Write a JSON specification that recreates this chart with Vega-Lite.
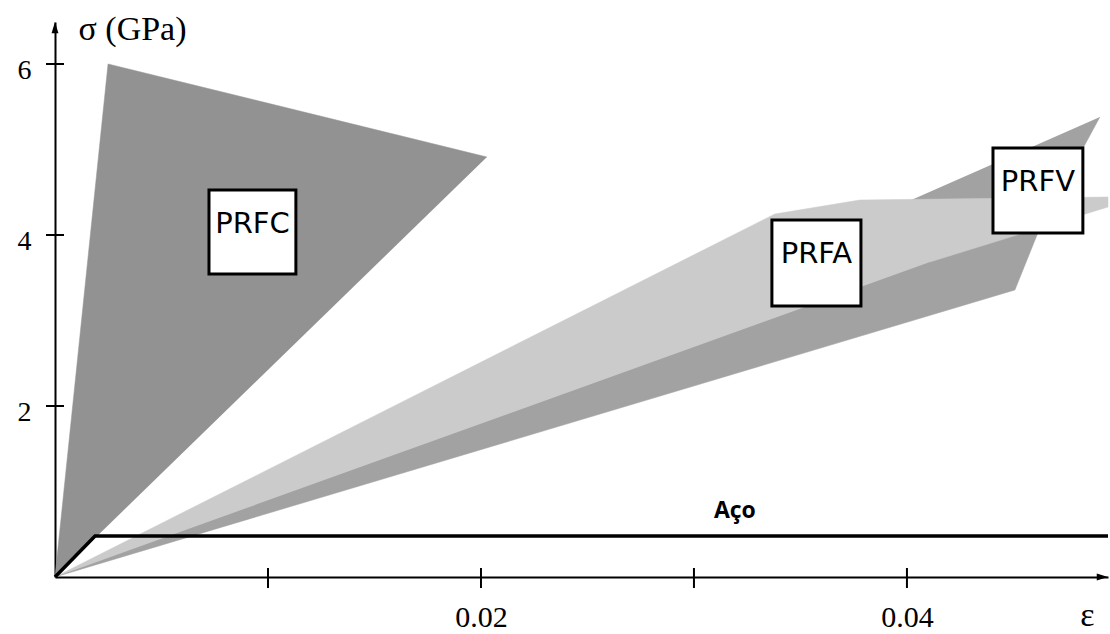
{
  "$schema": "https://vega.github.io/schema/vega-lite/v6.json",
  "width": 1053,
  "height": 555,
  "autosize": {"type": "none"},
  "padding": {"left": 55, "top": 22, "right": 2, "bottom": 57},
  "background": "#ffffff",
  "config": {
    "view": {"stroke": null},
    "axis": {"grid": false, "domain": true, "domainColor": "#000000", "domainWidth": 2, "ticks": false, "zindex": 1}
  },
  "datasets": {
    "regions": [
      {"s": "PRFC", "i": 0, "x": 0, "y": 0},
      {"s": "PRFC", "i": 1, "x": 0.00249, "y": 6.0},
      {"s": "PRFC", "i": 2, "x": 0.02028, "y": 4.912},
      {"s": "PRFV", "i": 0, "x": 0, "y": 0},
      {"s": "PRFV", "i": 1, "x": 0.04507, "y": 3.357},
      {"s": "PRFV", "i": 2, "x": 0.04624, "y": 4.082},
      {"s": "PRFV", "i": 3, "x": 0.04906, "y": 5.38},
      {"s": "PRFA", "i": 0, "x": 0, "y": 0},
      {"s": "PRFA", "i": 1, "x": 0.0338, "y": 4.246},
      {"s": "PRFA", "i": 2, "x": 0.03779, "y": 4.409},
      {"s": "PRFA", "i": 3, "x": 0.04944, "y": 4.444},
      {"s": "PRFA", "i": 4, "x": 0.04944, "y": 4.327},
      {"s": "PRFA", "i": 5, "x": 0.04624, "y": 4.082},
      {"s": "PRFA", "i": 6, "x": 0.04108, "y": 3.684}
    ],
    "steel": [
      {"i": 0, "x": 0, "y": 0},
      {"i": 1, "x": 0.00188, "y": 0.48},
      {"i": 2, "x": 0.04944, "y": 0.48}
    ],
    "boxes": [
      {"name": "PRFC", "x": 0.00723, "x2": 0.01131, "y": 4.526, "y2": 3.544},
      {"name": "PRFA", "x": 0.03366, "x2": 0.03784, "y": 4.175, "y2": 3.17},
      {"name": "PRFV", "x": 0.04404, "x2": 0.04826, "y": 5.018, "y2": 4.023}
    ],
    "boxLabels": [
      {"name": "PRFC", "x": 0.00927, "y": 4.023},
      {"name": "PRFA", "x": 0.03575, "y": 3.673},
      {"name": "PRFV", "x": 0.04615, "y": 4.515}
    ],
    "note": [{"label": "Aço", "x": 0.03192, "y": 0.69}],
    "xticks": [{"x": 0.01, "y": 0}, {"x": 0.02, "y": 0}, {"x": 0.03, "y": 0}, {"x": 0.04, "y": 0}],
    "yticks": [{"x": 0, "y": 2}, {"x": 0, "y": 4}, {"x": 0, "y": 6}],
    "arrows": [{"dir": "up", "x": 0, "y": 6.491}, {"dir": "right", "x": 0.04944, "y": 0}]
  },
  "encoding": {
    "x": {
      "field": "x",
      "type": "quantitative",
      "scale": {"domain": [0, 0.04944], "nice": false, "zero": false},
      "axis": {
        "values": [0.02, 0.04],
        "format": ".2f",
        "labelFont": "Liberation Serif",
        "labelFontSize": 30,
        "labelColor": "#000000",
        "labelBaseline": "alphabetic",
        "labelPadding": 49,
        "labelFlush": false,
        "labelOverlap": false,
        "title": "ε",
        "titleFont": "Liberation Serif",
        "titleFontSize": 34,
        "titleFontWeight": "normal",
        "titleColor": "#000000",
        "titleX": 1032,
        "titleY": 48,
        "titleAlign": "center",
        "titleBaseline": "alphabetic"
      }
    },
    "y": {
      "field": "y",
      "type": "quantitative",
      "scale": {"domain": [0, 6.491], "nice": false, "zero": false},
      "axis": {
        "values": [2, 4, 6],
        "labelFont": "Liberation Serif",
        "labelFontSize": 28,
        "labelColor": "#000000",
        "labelPadding": 24,
        "labelOffset": 7,
        "title": "σ (GPa)",
        "titleAngle": 0,
        "titleAlign": "left",
        "titleBaseline": "alphabetic",
        "titleX": 23,
        "titleY": 17,
        "titleFont": "Liberation Serif",
        "titleFontSize": 34,
        "titleFontWeight": "normal",
        "titleColor": "#000000"
      }
    }
  },
  "layer": [
    {
      "data": {"name": "regions"},
      "transform": [{"filter": "datum.s === 'PRFC'"}],
      "mark": {"type": "line", "fill": "#929292", "fillOpacity": 1, "stroke": "#929292", "strokeWidth": 0.5},
      "encoding": {"order": {"field": "i", "type": "quantitative"}}
    },
    {
      "data": {"name": "regions"},
      "transform": [{"filter": "datum.s === 'PRFV'"}],
      "mark": {"type": "line", "fill": "#a2a2a2", "fillOpacity": 1, "stroke": "#a2a2a2", "strokeWidth": 0.5},
      "encoding": {"order": {"field": "i", "type": "quantitative"}}
    },
    {
      "data": {"name": "regions"},
      "transform": [{"filter": "datum.s === 'PRFA'"}],
      "mark": {"type": "line", "fill": "#cbcbcb", "fillOpacity": 1, "stroke": "#cbcbcb", "strokeWidth": 0.5},
      "encoding": {"order": {"field": "i", "type": "quantitative"}}
    },
    {
      "data": {"name": "steel"},
      "mark": {"type": "line", "stroke": "#000000", "strokeWidth": 3.5},
      "encoding": {"order": {"field": "i", "type": "quantitative"}}
    },
    {
      "data": {"name": "xticks"},
      "mark": {"type": "tick", "orient": "vertical", "size": 20, "thickness": 2, "color": "#000000", "opacity": 1, "yOffset": 1}
    },
    {
      "data": {"name": "yticks"},
      "mark": {"type": "tick", "orient": "horizontal", "size": 18, "thickness": 2, "color": "#000000", "opacity": 1}
    },
    {
      "data": {"name": "arrows"},
      "mark": {"type": "point", "filled": true, "color": "#000000", "opacity": 1, "size": 300},
      "encoding": {
        "shape": {
          "field": "dir",
          "type": "nominal",
          "scale": {"domain": ["up", "right"], "range": ["M0,0L0.4,1.3L-0.4,1.3Z", "M0,0L-1.3,-0.4L-1.3,0.4Z"]},
          "legend": null
        }
      }
    },
    {
      "data": {"name": "boxes"},
      "mark": {"type": "rect", "fill": "#ffffff", "stroke": "#000000", "strokeWidth": 3},
      "encoding": {"x2": {"field": "x2"}, "y2": {"field": "y2"}}
    },
    {
      "data": {"name": "boxLabels"},
      "mark": {"type": "text", "font": "DejaVu Sans", "fontSize": 29, "align": "center", "baseline": "alphabetic", "color": "#000000"},
      "encoding": {"text": {"field": "name"}}
    },
    {
      "data": {"name": "note"},
      "mark": {"type": "text", "font": "Open Sans", "fontSize": 23, "fontWeight": "bold", "align": "center", "baseline": "alphabetic", "color": "#000000"},
      "encoding": {"text": {"field": "label"}}
    }
  ]
}
